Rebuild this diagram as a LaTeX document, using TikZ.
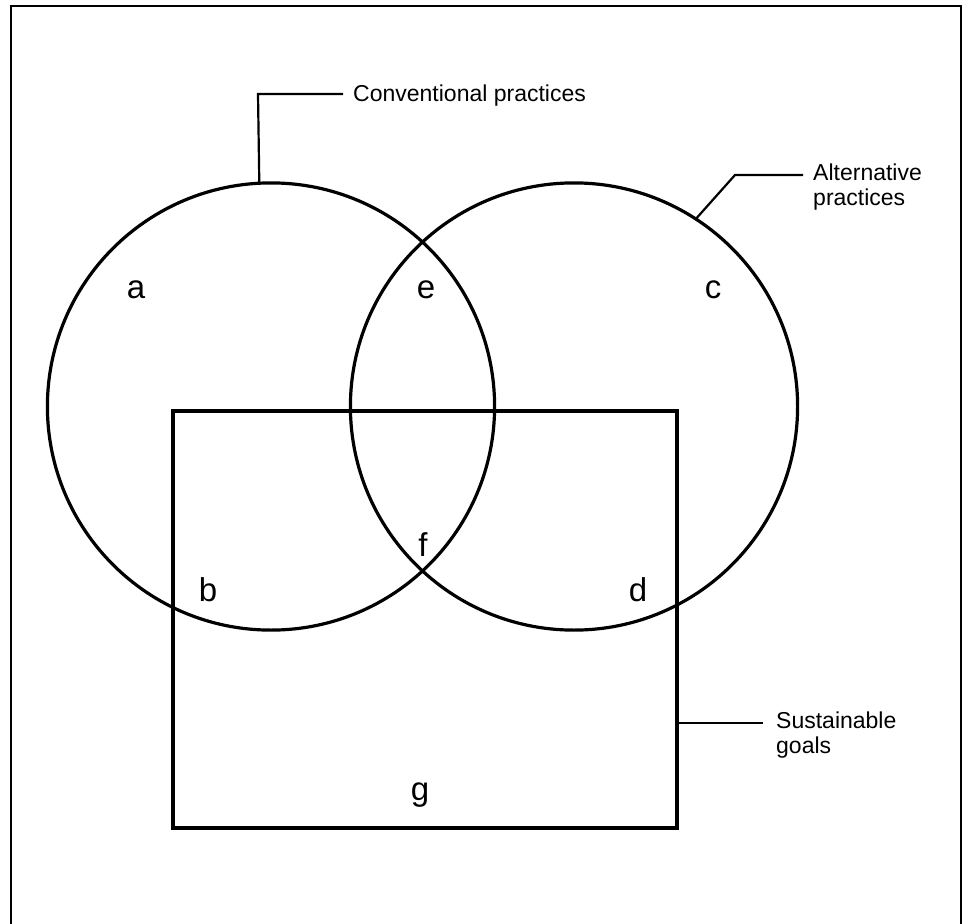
\documentclass[tikz,border=0pt]{standalone}
\usepackage{fontspec}
\setmainfont{Liberation Sans}
\begin{document}
\begin{tikzpicture}[x=1pt,y=-1pt,
  ring/.style={circle,draw,line width=3.2pt,inner sep=0pt,outer sep=0pt,minimum size=447.2pt},
  goalbox/.style={rectangle,draw,line width=3.2pt,inner sep=0pt,outer sep=0pt,minimum width=504pt,minimum height=417pt},
  lead/.style={line width=2.2pt},
  region/.style={font=\fontsize{33}{33}\selectfont,inner sep=0pt},
  callout/.style={font=\fontsize{23}{25}\selectfont,align=left,anchor=west,inner sep=0pt}]
\useasboundingbox (0,0) rectangle (963,923);
\draw[line width=2.2pt] (11,925) -- (11,6) -- (961,6) -- (961,925);
\node[goalbox] (G) at (425,619.5) {};
\node[ring] (L) at (271,406.5) {};
\node[ring] (R) at (574,406.5) {};
% callouts
\coordinate (c1) at (258,94);
\coordinate (c2) at (343,94);
\node[callout] (CT) at (353,96) {Conventional practices};
\draw[lead] (L.93.3) -- (c1) -- (c2);
\coordinate (a1) at (735,175);
\coordinate (a2) at (803,175);
\node[callout] (AT) at (813,187) {Alternative\\practices};
\draw[lead] (R.57.4) -- (a1) -- (a2);
\coordinate (s1) at (763,723);
\node[callout] (ST) at (776,735) {Sustainable\\goals};
\draw[lead] (G.east |- s1) -- (s1);
% region letters
\node[region] (ra) at (136,290) {a};
\node[region] (re) at (426,290) {e};
\node[region] (rc) at (713,290) {c};
\node[region] (rf) at (423,545) {f};
\node[region] (rb) at (208,590) {b};
\node[region] (rd) at (638,590) {d};
\node[region] (rg) at (420,795) {g};
\end{tikzpicture}
\end{document}
